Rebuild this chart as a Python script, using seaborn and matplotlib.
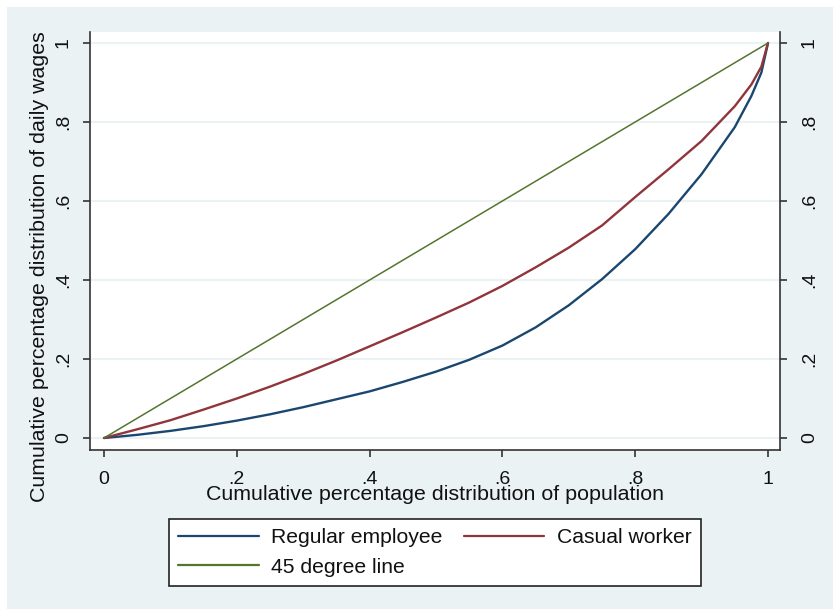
import numpy as np
import pandas as pd
import matplotlib
matplotlib.use("Agg")
import matplotlib.pyplot as plt
from matplotlib.patches import Rectangle
from matplotlib.lines import Line2D
import seaborn as sns

# Cumulative share of population (x) and cumulative share of daily wages (y)
pop_share = [0.0, 0.05, 0.10, 0.15, 0.20, 0.25, 0.30, 0.35, 0.40, 0.45, 0.50,
             0.55, 0.60, 0.65, 0.70, 0.75, 0.80, 0.85, 0.90, 0.95, 0.975, 0.99, 1.0]
regular_employee = [0.0, 0.008, 0.018, 0.030, 0.044, 0.060, 0.078, 0.098, 0.118, 0.142, 0.168,
                    0.198, 0.234, 0.280, 0.336, 0.402, 0.478, 0.567, 0.668, 0.787, 0.866, 0.925, 1.0]
casual_worker = [0.0, 0.022, 0.045, 0.072, 0.100, 0.130, 0.162, 0.196, 0.232, 0.268, 0.305,
                 0.343, 0.385, 0.432, 0.482, 0.538, 0.610, 0.680, 0.752, 0.840, 0.895, 0.940, 1.0]
equality_x = [0.0, 1.0]
equality_y = [0.0, 1.0]

series_names = ["Regular employee", "Casual worker", "45 degree line"]
series_colors = ["#1a476f", "#90353b", "#55752f"]
tick_values = [0, 0.2, 0.4, 0.6, 0.8, 1.0]
tick_labels = ["0", ".2", ".4", ".6", ".8", "1"]

df = pd.concat([
    pd.DataFrame({"population": pop_share, "wages": regular_employee, "group": series_names[0]}),
    pd.DataFrame({"population": pop_share, "wages": casual_worker, "group": series_names[1]}),
    pd.DataFrame({"population": equality_x, "wages": equality_y, "group": series_names[2]}),
], ignore_index=True)

sns.set_theme(style="white")
plt.rcParams["font.family"] = ["Liberation Sans", "DejaVu Sans"]

text_color = "#111111"
axis_color = "#333333"
bg_color = "#eaf2f3"
label_size = 15.4
tick_size = 14

fig = plt.figure(figsize=(8.33, 6.09), dpi=100)
fig.patch.set_facecolor("white")
fig.patches.append(Rectangle((7 / 833, 0), 1, (609 - 7) / 609, transform=fig.transFigure,
                             facecolor=bg_color, edgecolor="none", zorder=-10))

ax = fig.add_axes([90 / 833, 1 - 450 / 609, 690 / 833, 418 / 609])
ax.set_facecolor("white")

widths = {series_names[0]: 1.7, series_names[1]: 1.7, series_names[2]: 1.1}
for name, color in zip(series_names, series_colors):
    sub = df[df["group"] == name]
    sns.lineplot(data=sub, x="population", y="wages", color=color, linewidth=widths[name],
                 estimator=None, sort=False, ax=ax, legend=False)

xlim = ((90 - 104) / 664, (780 - 104) / 664)
ylim = (-(450 - 438) / 395, 1 + (43 - 32) / 395)
ax.set_xlim(*xlim)
ax.set_ylim(*ylim)
ax.set_xticks(tick_values)
ax.set_xticklabels(tick_labels)
ax.set_yticks(tick_values)
ax.set_yticklabels(tick_labels, rotation=90, va="center")
ax.set_xlabel("")
ax.set_ylabel("")
ax.yaxis.grid(True, color=bg_color, linewidth=1.5)
ax.xaxis.grid(False)
ax.set_axisbelow(True)

for side in ["top", "right"]:
    ax.spines[side].set_visible(False)
for side in ["left", "bottom"]:
    ax.spines[side].set_color(axis_color)
    ax.spines[side].set_linewidth(1.2)

ax.tick_params(axis="both", which="major", direction="out", length=5, width=1.2,
               color=axis_color, labelsize=tick_size, labelcolor=text_color,
               bottom=True, left=True)
ax.tick_params(axis="x", pad=10)
ax.tick_params(axis="y", pad=8)

# Mirrored scale on the right-hand side
ax2 = ax.twinx()
ax2.set_ylim(*ylim)
ax2.set_yticks(tick_values)
ax2.set_yticklabels(tick_labels, rotation=90, va="center")
for side in ["top", "left", "bottom"]:
    ax2.spines[side].set_visible(False)
ax2.spines["right"].set_color(axis_color)
ax2.spines["right"].set_linewidth(1.2)
ax2.tick_params(axis="y", direction="out", length=5, width=1.2, color=axis_color,
                labelsize=tick_size, labelcolor=text_color, right=True, pad=10)
ax2.grid(False)

fig.text(40 / 833, 1 - 267 / 609, "Cumulative percentage distribution of daily wages",
         rotation=90, ha="center", va="center", fontsize=label_size, color=text_color)
fig.text(435 / 833, 1 - 495 / 609, "Cumulative percentage distribution of population",
         ha="center", va="center", fontsize=label_size, color=text_color)

handles = [Line2D([0], [0], color=series_colors[0], lw=1.6),
           Line2D([0], [0], color=series_colors[2], lw=1.6),
           Line2D([0], [0], color=series_colors[1], lw=1.6)]
labels = [series_names[0], series_names[2], series_names[1]]
leg = ax.legend(handles, labels, ncol=2, loc="center",
                bbox_to_anchor=(435 / 833, 1 - 552.5 / 609), bbox_transform=fig.transFigure,
                frameon=True, fancybox=False, framealpha=1, facecolor="white",
                edgecolor="#222222", fontsize=15.2, handlelength=3.8, handletextpad=0.6,
                columnspacing=1.0, borderpad=0.45, labelspacing=0.5, borderaxespad=0)
leg.get_frame().set_linewidth(1.2)
for t in leg.get_texts():
    t.set_color(text_color)

fig.savefig("out.png", dpi=100, facecolor=fig.get_facecolor())
